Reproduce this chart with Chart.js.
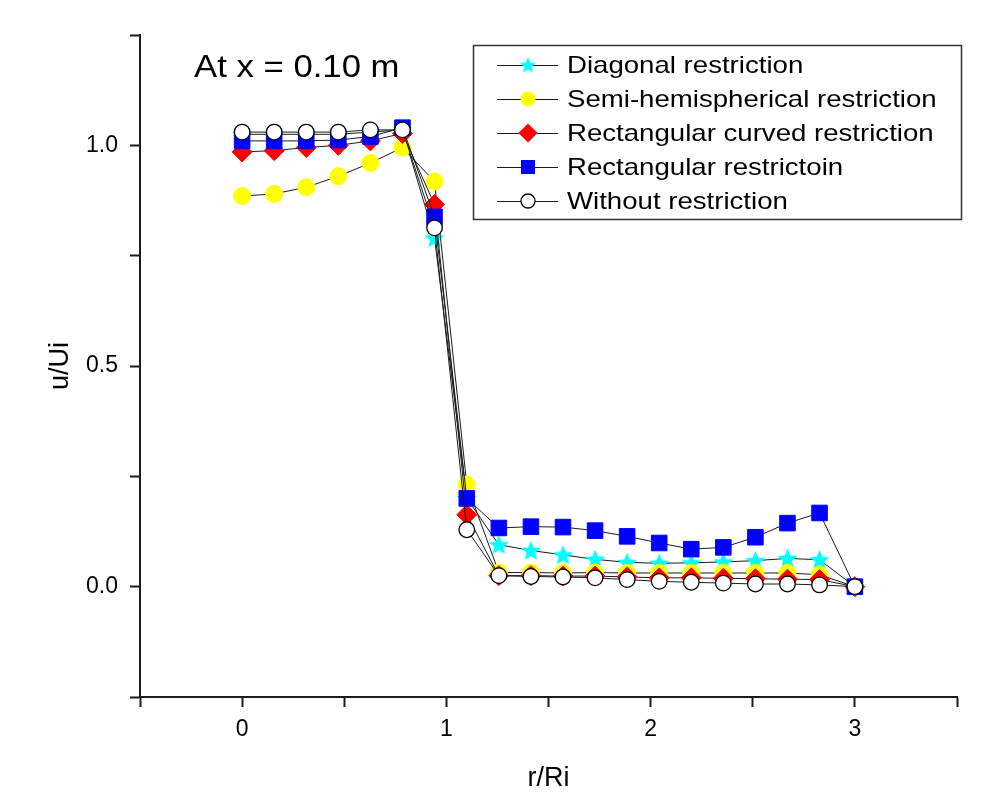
<!DOCTYPE html>
<html>
<head>
<meta charset="utf-8">
<script src="https://cdn.jsdelivr.net/npm/chart.js@4.4.1/dist/chart.umd.min.js"></script>
<style>
  html, body { margin: 0; padding: 0; background: #fff; }
  #wrap { width: 987px; height: 811px; position: relative; }
</style>
</head>
<body>
<div id="wrap"><canvas id="chart"></canvas></div>
<script>
// r/Ri positions
const rRi = [0, 0.157, 0.314, 0.471, 0.628, 0.785, 0.942, 1.1, 1.257, 1.414,
             1.571, 1.728, 1.885, 2.042, 2.199, 2.356, 2.513, 2.67, 2.827, 3.0];

// u/Ui for each case
const diagonal = [1.025, 1.025, 1.025, 1.025, 1.03, 1.035, 0.79, 0.2, 0.095, 0.082,
                  0.072, 0.062, 0.055, 0.053, 0.054, 0.056, 0.059, 0.064, 0.061, 0];
const semiHemi = [0.885, 0.89, 0.905, 0.93, 0.96, 0.995, 0.918, 0.231, 0.032, 0.032,
                  0.031, 0.032, 0.031, 0.031, 0.031, 0.031, 0.031, 0.031, 0.027, 0];
const rectCurved = [0.985, 0.988, 0.995, 1.0, 1.01, 1.027, 0.866, 0.163, 0.025, 0.025,
                    0.024, 0.024, 0.022, 0.02, 0.02, 0.019, 0.018, 0.017, 0.016, 0];
const rectangular = [1.01, 1.01, 1.01, 1.012, 1.02, 1.04, 0.838, 0.2, 0.133, 0.136,
                     0.135, 0.127, 0.114, 0.099, 0.085, 0.089, 0.112, 0.144, 0.167, 0];
const without = [1.03, 1.03, 1.03, 1.03, 1.035, 1.035, 0.813, 0.129, 0.025, 0.023,
                 0.022, 0.02, 0.016, 0.012, 0.01, 0.008, 0.006, 0.006, 0.004, 0];

const labels = ['Diagonal restriction', 'Semi-hemispherical restriction',
                'Rectangular curved restriction', 'Rectangular restrictoin', 'Without restriction'];

const xTickLabels = [0, 1, 2, 3];
const yTickLabels = [0, 0.5, 1.0];

const FONT = '"Liberation Sans", Arial, sans-serif';
const INK = '#1a1a1a';

function starImage(outer, color) {
  const c = document.createElement('canvas');
  const s = Math.ceil(outer * 2 + 2);
  c.width = s; c.height = s;
  const g = c.getContext('2d');
  const inner = outer * 0.45;
  g.beginPath();
  for (let i = 0; i < 10; i++) {
    const rad = i % 2 ? inner : outer;
    const a = -Math.PI / 2 + i * Math.PI / 5;
    const px = s / 2 + rad * Math.cos(a), py = s / 2 + rad * Math.sin(a) + outer * 0.08;
    if (i) g.lineTo(px, py); else g.moveTo(px, py);
  }
  g.closePath();
  g.fillStyle = color;
  g.fill();
  return c;
}

const starPlot = starImage(10.5, '#00ffff');
const starLegend = starImage(8.5, '#00ffff');

function pts(vals) {
  return rRi.map((x, i) => ({ x: x, y: vals[i] }));
}

function line(label, vals, extra) {
  return Object.assign({
    label: label,
    data: pts(vals),
    borderColor: INK,
    borderWidth: 1,
    tension: 0,
    fill: false
  }, extra);
}

const datasets = [
  line(labels[0], diagonal, { pointStyle: starPlot, pointRadius: 10, order: 5 }),
  line(labels[1], semiHemi, { pointStyle: 'circle', pointRadius: 8.5, pointBackgroundColor: '#ffff00',
                              pointBorderColor: '#ffff00', pointBorderWidth: 1, order: 4 }),
  line(labels[2], rectCurved, { pointStyle: 'rectRot', pointRadius: 10, pointBackgroundColor: '#ff0000',
                                pointBorderColor: '#ff0000', pointBorderWidth: 1, order: 3 }),
  line(labels[3], rectangular, { pointStyle: 'rect', pointRadius: 11, pointBackgroundColor: '#0000ff',
                                 pointBorderColor: '#0000ff', pointBorderWidth: 1, order: 2 }),
  line(labels[4], without, { pointStyle: 'circle', pointRadius: 7.8, pointBackgroundColor: '#ffffff',
                             pointBorderColor: '#000000', pointBorderWidth: 1.3, order: 1 })
];

// legend marker drawing
function marker(ctx, i, x, y) {
  ctx.save();
  if (i === 0) {
    ctx.drawImage(starLegend, x - starLegend.width / 2, y - starLegend.height / 2);
  } else if (i === 1) {
    ctx.fillStyle = '#ffff00';
    ctx.beginPath(); ctx.arc(x, y, 7.5, 0, Math.PI * 2); ctx.fill();
  } else if (i === 2) {
    ctx.fillStyle = '#ff0000';
    ctx.beginPath();
    ctx.moveTo(x, y - 9.5); ctx.lineTo(x + 9.5, y); ctx.lineTo(x, y + 9.5); ctx.lineTo(x - 9.5, y);
    ctx.closePath(); ctx.fill();
  } else if (i === 3) {
    ctx.fillStyle = '#0000ff';
    ctx.fillRect(x - 7, y - 7, 14, 14);
  } else {
    ctx.fillStyle = '#fff';
    ctx.strokeStyle = '#000';
    ctx.lineWidth = 1.3;
    ctx.beginPath(); ctx.arc(x, y, 7, 0, Math.PI * 2); ctx.fill(); ctx.stroke();
  }
  ctx.restore();
}

// text that is a bit wider than the plain font, like the original export
function wideText(ctx, txt, x, y, sx) {
  ctx.save();
  ctx.translate(x, y);
  ctx.scale(sx, 1);
  ctx.fillText(txt, 0, 0);
  ctx.restore();
}

const overlay = {
  id: 'overlay',
  afterDraw(chart) {
    const ctx = chart.ctx;
    ctx.save();
    ctx.fillStyle = '#000';
    ctx.font = '31px ' + FONT;
    ctx.textBaseline = 'alphabetic';
    wideText(ctx, 'At x = 0.10 m', 194, 77, 1.12);

    // legend box
    ctx.fillStyle = '#fff';
    ctx.fillRect(473, 45, 489, 175);
    ctx.strokeStyle = '#333';
    ctx.lineWidth = 1.5;
    ctx.strokeRect(473.5, 45.5, 488, 174);

    ctx.font = '24px ' + FONT;
    ctx.textBaseline = 'middle';
    labels.forEach((txt, i) => {
      const y = 65 + i * 34;
      ctx.strokeStyle = INK;
      ctx.lineWidth = 1;
      ctx.beginPath(); ctx.moveTo(497, y + 0.5); ctx.lineTo(558, y + 0.5); ctx.stroke();
      marker(ctx, i, 528, y);
      ctx.fillStyle = '#000';
      wideText(ctx, txt, 567, y + 1, 1.15);
    });
    ctx.restore();
  }
};

new Chart(document.getElementById('chart'), {
  type: 'line',
  data: { datasets: datasets },
  plugins: [overlay],
  options: {
    responsive: true,
    maintainAspectRatio: false,
    animation: false,
    layout: { padding: { left: 0, top: 35, right: 30, bottom: 0 } },
    plugins: { legend: { display: false }, tooltip: { enabled: false } },
    scales: {
      x: {
        type: 'linear',
        min: -0.5,
        max: 3.5,
        afterFit: (s) => { s.height = 114; },
        border: { display: true, color: INK, width: 2 },
        grid: { drawOnChartArea: false, drawTicks: true, tickLength: 10, tickWidth: 2, tickColor: INK },
        ticks: {
          stepSize: 0.5,
          autoSkip: false,
          maxRotation: 0,
          padding: 9,
          color: '#000',
          font: { family: FONT, size: 23 },
          callback: (v) => xTickLabels.includes(v) ? String(v) : ''
        },
        title: { display: true, text: 'r/Ri', color: '#000', font: { family: FONT, size: 27 },
                 padding: { top: 0, bottom: 16 } }
      },
      y: {
        type: 'linear',
        min: -0.25,
        max: 1.25,
        afterFit: (s) => { s.width = 140; },
        border: { display: true, color: INK, width: 2 },
        grid: { drawOnChartArea: false, drawTicks: true, tickLength: 10, tickWidth: 2, tickColor: INK },
        ticks: {
          stepSize: 0.25,
          autoSkip: false,
          padding: 12,
          color: '#000',
          font: { family: FONT, size: 23 },
          callback: (v) => yTickLabels.some(t => Math.abs(t - v) < 1e-9) ? v.toFixed(1) : ''
        },
        title: { display: true, text: 'u/Ui', color: '#000', font: { family: FONT, size: 27 },
                 padding: { top: 44, bottom: 0 } }
      }
    }
  }
});
</script>
</body>
</html>
